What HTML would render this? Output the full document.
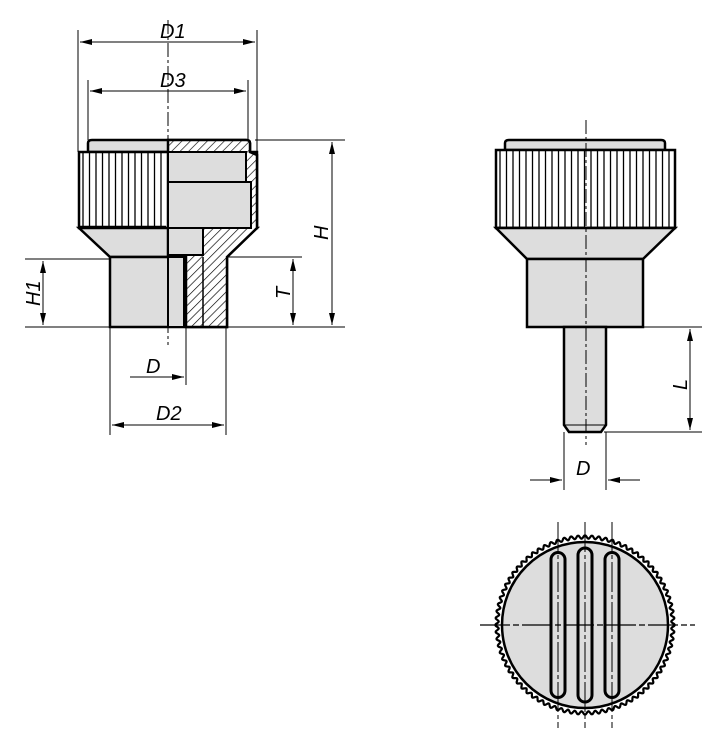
<!DOCTYPE html>
<html><head><meta charset="utf-8"><style>
html,body{margin:0;padding:0;background:#fff;width:715px;height:750px;overflow:hidden}
text{font-family:"Liberation Sans",sans-serif;font-style:italic;font-size:20px;fill:#000}
</style></head><body>
<svg id="s" width="715" height="750" viewBox="0 0 715 750" xmlns="http://www.w3.org/2000/svg">
<defs>
<marker id="a" viewBox="0 0 12 6" refX="12" refY="3" markerWidth="12" markerHeight="6" orient="auto-start-reverse" markerUnits="userSpaceOnUse"><path d="M0,0L12,3L0,6z" fill="#000"/></marker>
<pattern id="h" width="6" height="6" patternUnits="userSpaceOnUse" patternTransform="rotate(45)"><rect width="6" height="6" fill="#fff"/><line x1="0" y1="0" x2="0" y2="6" stroke="#000" stroke-width="1.3"/></pattern>
</defs>
<g id="g" stroke="#000" fill="none">
<!-- LEFT VIEW -->
<path d="M88,143 Q88,140 92,140 L246,140 Q250,140 250,143 L250,152 L88,152Z" fill="#ddd" stroke-width="2.5"/>
<rect x="79" y="152" width="178" height="76" fill="#fff" stroke-width="2.5"/>
<path d="M79,228 L110,257 L227,257 L257,228Z" fill="#ddd" stroke-width="2.5"/>
<rect x="110" y="257" width="117" height="70" fill="#ddd" stroke-width="2.5"/>
<!-- section -->
<path d="M168,140 L246,140 Q250,140 250,143 L250,152 L257,155 L257,228 L227,257 L227,327 L186,327 L186,257 L168,257Z" fill="url(#h)" stroke-width="2.5"/>
<rect x="168" y="152" width="78" height="30" fill="#ddd" stroke-width="2"/>
<rect x="168" y="182" width="83" height="46" fill="#ddd" stroke-width="2"/>
<rect x="168" y="228" width="35" height="27" fill="#ddd" stroke-width="2"/>
<rect x="168" y="257" width="16" height="70" fill="#ddd" stroke-width="2"/>
<line x1="203" y1="257" x2="203" y2="327" stroke-width="1.5"/>
<g id="kl"></g>
<line x1="168" y1="20" x2="168" y2="345" stroke-width="1" stroke-dasharray="14,3,3,3"/>
<!-- dims left -->
<line x1="78" y1="30" x2="78" y2="152" stroke-width="1"/><line x1="257" y1="30" x2="257" y2="152" stroke-width="1"/>
<line x1="80" y1="42" x2="255" y2="42" stroke-width="1" marker-start="url(#a)" marker-end="url(#a)"/>
<line x1="88" y1="80" x2="88" y2="140" stroke-width="1"/><line x1="248" y1="80" x2="248" y2="140" stroke-width="1"/>
<line x1="90" y1="91" x2="246" y2="91" stroke-width="1" marker-start="url(#a)" marker-end="url(#a)"/>
<line x1="255" y1="140" x2="345" y2="140" stroke-width="1"/><line x1="228" y1="327" x2="345" y2="327" stroke-width="1"/>
<line x1="332" y1="142" x2="332" y2="325" stroke-width="1" marker-start="url(#a)" marker-end="url(#a)"/>
<line x1="228" y1="257" x2="302" y2="257" stroke-width="1"/>
<line x1="293" y1="259" x2="293" y2="325" stroke-width="1" marker-start="url(#a)" marker-end="url(#a)"/>
<line x1="25" y1="259" x2="110" y2="259" stroke-width="1"/><line x1="25" y1="327" x2="110" y2="327" stroke-width="1"/>
<line x1="43" y1="261" x2="43" y2="325" stroke-width="1" marker-start="url(#a)" marker-end="url(#a)"/>
<line x1="110" y1="327" x2="110" y2="435" stroke-width="1"/><line x1="226" y1="327" x2="226" y2="435" stroke-width="1"/>
<line x1="186" y1="327" x2="186" y2="385" stroke-width="1"/>
<line x1="130" y1="377" x2="184" y2="377" stroke-width="1" marker-end="url(#a)"/>
<line x1="112" y1="425" x2="224" y2="425" stroke-width="1" marker-start="url(#a)" marker-end="url(#a)"/>
<!-- RIGHT VIEW -->
<path d="M505,143 Q505,140 509,140 L661,140 Q665,140 665,143 L665,150 L505,150Z" fill="#ddd" stroke-width="2.5"/>
<rect x="496" y="150" width="179" height="78" fill="#fff" stroke-width="2.5"/>
<g id="kr"></g>
<path d="M496,228 L527,259 L643,259 L675,228Z" fill="#ddd" stroke-width="2.5"/>
<rect x="527" y="259" width="116" height="68" fill="#ddd" stroke-width="2.5"/>
<path d="M564,327 L564,425 L569,432 L601,432 L606,425 L606,327Z" fill="#ddd" stroke-width="2.5"/>
<line x1="564" y1="425" x2="606" y2="425" stroke-width="1"/>
<line x1="586" y1="120" x2="586" y2="445" stroke-width="1" stroke-dasharray="14,3,3,3"/>
<line x1="608" y1="327" x2="702" y2="327" stroke-width="1"/><line x1="604" y1="432" x2="702" y2="432" stroke-width="1"/>
<line x1="690" y1="329" x2="690" y2="430" stroke-width="1" marker-start="url(#a)" marker-end="url(#a)"/>
<line x1="564" y1="432" x2="564" y2="490" stroke-width="1"/><line x1="606" y1="432" x2="606" y2="490" stroke-width="1"/>
<line x1="530" y1="480" x2="562" y2="480" stroke-width="1" marker-end="url(#a)"/>
<line x1="640" y1="480" x2="608" y2="480" stroke-width="1" marker-end="url(#a)"/>
<!-- TOP VIEW -->
<path id="kn" fill="#fff" stroke-width="2.2"/>
<circle cx="585" cy="625" r="83" fill="#ddd" stroke-width="2.5"/>
<g id="sl"></g>
<line x1="480" y1="625" x2="695" y2="625" stroke-width="1.2" stroke-dasharray="30,3,6,3"/>
</g>
<text x="160" y="38">D1</text><text x="160" y="87">D3</text>
<text x="146" y="373">D</text><text x="156" y="420">D2</text>
<text x="576" y="475">D</text>
<text transform="translate(328,240) rotate(-90)">H</text>
<text transform="translate(290,299) rotate(-90)">T</text>
<text transform="translate(40,306) rotate(-90)">H1</text>
<text transform="translate(687,390) rotate(-90)">L</text>
</svg>
<script>
var NS="http://www.w3.org/2000/svg";
function L(p,x1,y1,x2,y2,w,da){var l=document.createElementNS(NS,"line");l.setAttribute("x1",x1);l.setAttribute("y1",y1);l.setAttribute("x2",x2);l.setAttribute("y2",y2);l.setAttribute("stroke-width",w);if(da)l.setAttribute("stroke-dasharray",da);p.appendChild(l);}
var kl=document.getElementById("kl");for(var x=83;x<166;x+=6.5)L(kl,x,153,x,227,1.3);
var kr=document.getElementById("kr");for(var x=500;x<673;x+=6.5)L(kr,x,151,x,227,1.3);
L(kl,80,227,166,227,2.5);L(kr,496,228,675,228,2.5);
var d="";for(var i=0;i<=960;i++){var t=i/960*2*Math.PI;var r=88+1.6*Math.cos(t*80);d+=(i?"L":"M")+(585+r*Math.cos(t)).toFixed(1)+","+(625+r*Math.sin(t)).toFixed(1);}
document.getElementById("kn").setAttribute("d",d+"Z");
var sl=document.getElementById("sl");
[558,585,612].forEach(function(cx){var h=Math.sqrt(83*83-(cx-585)*(cx-585))-6;var r=document.createElementNS(NS,"rect");r.setAttribute("x",cx-7);r.setAttribute("y",625-h);r.setAttribute("width",14);r.setAttribute("height",2*h);r.setAttribute("rx",7);r.setAttribute("fill","#ddd");r.setAttribute("stroke-width","3");sl.appendChild(r);L(sl,cx,522,cx,728,1,"30,3,4,3");});
</script>
</body></html>
